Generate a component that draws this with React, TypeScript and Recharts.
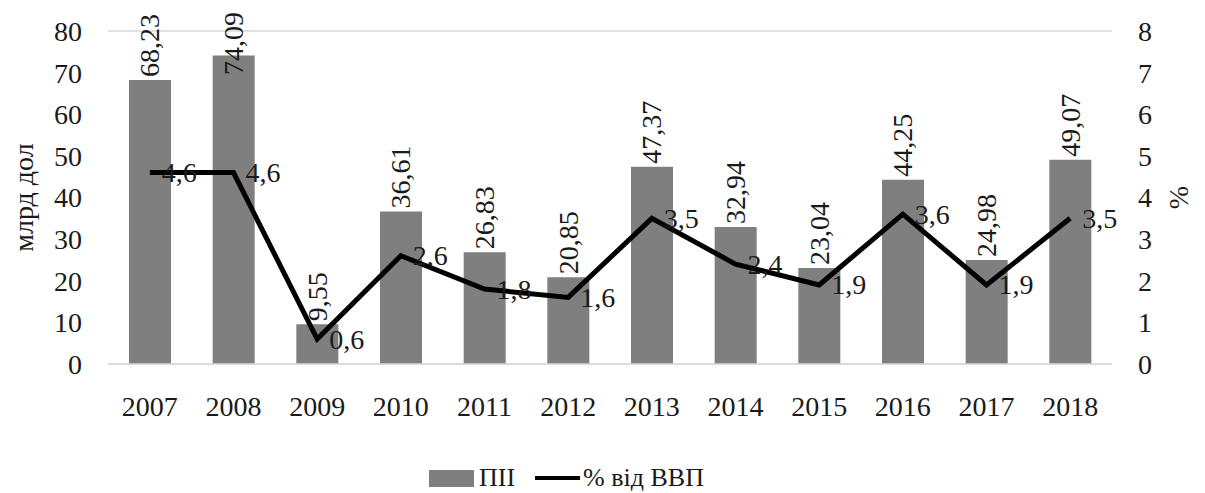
import { ComposedChart, Bar, Line, XAxis, YAxis, CartesianGrid, Legend, LabelList } from "recharts";

const years = ["2007", "2008", "2009", "2010", "2011", "2012", "2013", "2014", "2015", "2016", "2017", "2018"];
const fdi = [68.23, 74.09, 9.55, 36.61, 26.83, 20.85, 47.37, 32.94, 23.04, 44.25, 24.98, 49.07];
const gdpShare = [4.6, 4.6, 0.6, 2.6, 1.8, 1.6, 3.5, 2.4, 1.9, 3.6, 1.9, 3.5];
const leftTicks = [0, 10, 20, 30, 40, 50, 60, 70, 80];
const rightTicks = [0, 1, 2, 3, 4, 5, 6, 7, 8];

const data = years.map((year, i) => ({ year, fdi: fdi[i], gdp: gdpShare[i] }));

const FONT = "Liberation Serif";
const fmt = (v: number) => String(v).replace(".", ",");

const BarLabel = (props: any) => {
  const { x, y, width, value } = props;
  const cx = x + width / 2;
  const sy = Math.max(y - 3, 67);
  return (
    <text
      x={cx}
      y={sy}
      transform={`rotate(-90 ${cx} ${sy})`}
      textAnchor="start"
      dominantBaseline="central"
      style={{ fontFamily: FONT, fontSize: 28 }}
      fill="#1a1a1a"
    >
      {fmt(value)}
    </text>
  );
};

const LineLabel = (props: any) => {
  const { x, y, value } = props;
  return (
    <text x={x + 12} y={y} dominantBaseline="central" style={{ fontFamily: FONT, fontSize: 28 }} fill="#1a1a1a">
      {fmt(value)}
    </text>
  );
};

const LegendContent = () => (
  <div
    style={{
      display: "flex",
      justifyContent: "center",
      alignItems: "center",
      fontFamily: FONT,
      fontSize: 26,
      color: "#1a1a1a",
      paddingRight: 72,
      height: 30,
    }}
  >
    <span style={{ display: "inline-block", width: 45, height: 17, background: "#7f7f7f", marginRight: 5 }} />
    <span style={{ marginRight: 20 }}>ПІІ</span>
    <span style={{ display: "inline-block", width: 45, height: 4, background: "#000", marginRight: 3 }} />
    <span>% від ВВП</span>
  </div>
);

const tickStyle = { fontFamily: FONT, fontSize: 28, fill: "#1a1a1a" };

export default function App() {
  return (
    <div style={{ fontFamily: FONT }}>
      <ComposedChart width={1189} height={485} data={data} margin={{ top: 23, right: 0, left: 0, bottom: 0 }}>
        <CartesianGrid vertical={false} stroke="#d9d9d9" strokeWidth={1.5} />
        <XAxis
          dataKey="year"
          height={99}
          tickLine={false}
          tickSize={0}
          tickMargin={32}
          axisLine={{ stroke: "#d9d9d9", strokeWidth: 1.5 }}
          tick={tickStyle}
        />
        <YAxis
          yAxisId="left"
          width={100}
          domain={[0, 80]}
          ticks={leftTicks}
          axisLine={false}
          tickLine={false}
          tickSize={0}
          tickMargin={26}
          tick={tickStyle}
          label={{
            value: "млрд дол",
            angle: -90,
            position: "center",
            dx: -35,
            style: { fontFamily: FONT, fontSize: 28, fill: "#1a1a1a" },
          }}
        />
        <YAxis
          yAxisId="right"
          orientation="right"
          width={85}
          domain={[0, 8]}
          ticks={rightTicks}
          axisLine={false}
          tickLine={false}
          tickSize={0}
          tickMargin={26}
          tick={{ ...tickStyle, textAnchor: "start" }}
          label={{
            value: "%",
            angle: -90,
            position: "center",
            dx: 24,
            style: { fontFamily: FONT, fontSize: 28, fill: "#1a1a1a" },
          }}
        />
        <Legend verticalAlign="bottom" height={30} content={<LegendContent />} />
        <Bar yAxisId="left" dataKey="fdi" name="ПІІ" fill="#7f7f7f" barSize={42} isAnimationActive={false}>
          <LabelList dataKey="fdi" content={<BarLabel />} />
        </Bar>
        <Line
          yAxisId="right"
          dataKey="gdp"
          name="% від ВВП"
          stroke="#000"
          strokeWidth={5}
          dot={false}
          isAnimationActive={false}
        >
          <LabelList dataKey="gdp" content={<LineLabel />} />
        </Line>
      </ComposedChart>
    </div>
  );
}
